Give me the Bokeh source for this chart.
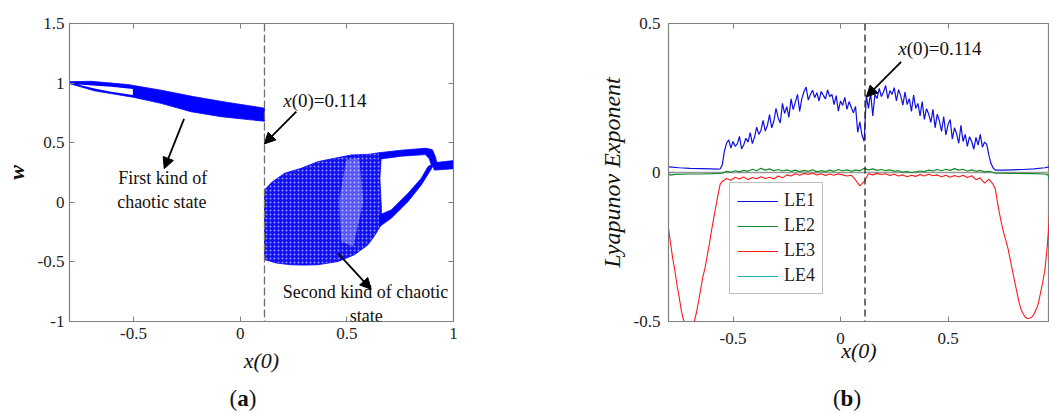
import numpy as np
from bokeh.embed import file_html
from bokeh.layouts import column, row
from bokeh.models import (Arrow, CustomJSTickFormatter, Div, FixedTicker, Label, Legend,
                          LegendItem, LinearAxis, NormalHead, Range1d, Span)
from bokeh.plotting import figure
from bokeh.resources import INLINE

SERIF = "Liberation Serif"
AX = "#808080"
TXT = "#222222"
BLUE = "#0000ff"

X_SWITCH = 0.114

# ---------------- panel (a): attractor regions of w versus x(0) ----------------
# first kind of chaotic state (x(0) < 0.114): upper edge then lower edge
band_x = [-0.802, -0.700, -0.527, -0.371, -0.214, -0.058, 0.114,
          0.114, 0.005, -0.089, -0.230, -0.371, -0.497, -0.683, -0.802]
band_w = [1.012, 1.015, 0.988, 0.941, 0.885, 0.838, 0.790,
          0.680, 0.700, 0.718, 0.760, 0.830, 0.880, 0.935, 0.997]
# open window between the two thin branches at the left end
gap_x = [-0.761, -0.605, -0.503, -0.503, -0.605, -0.683]
gap_w = [0.988, 0.969, 0.950, 0.900, 0.927, 0.955]

# second kind of chaotic state (x(0) > 0.114)
blob_x = [0.114, 0.150, 0.208, 0.286, 0.364, 0.442, 0.521, 0.599, 0.652, 0.661,
          0.655, 0.662, 0.661, 0.630, 0.599, 0.536, 0.458, 0.364, 0.300, 0.239, 0.170, 0.114]
blob_w = [0.104, 0.170, 0.243, 0.285, 0.341, 0.369, 0.397, 0.402, 0.416, 0.380,
          0.200, -0.050, -0.189, -0.280, -0.357, -0.440, -0.497, -0.524, -0.527, -0.524, -0.510, -0.480]
streak_x = [0.497, 0.558, 0.577, 0.530, 0.474, 0.464]
streak_w = [0.358, 0.374, 0.006, -0.371, -0.329, 0.006]

# periodic branches leaving the chaotic region
arc_x = [0.652, 0.755, 0.872, 0.901, 0.915, 0.924, 0.896, 0.886, 0.868, 0.755, 0.652]
arc_w = [0.416, 0.437, 0.454, 0.441, 0.383, 0.316, 0.316, 0.366, 0.400, 0.387, 0.362]
low_x = [0.653, 0.708, 0.787, 0.849, 0.888, 0.905, 0.896, 0.880, 0.849, 0.787, 0.708, 0.653]
low_w = [-0.204, -0.134, 0.006, 0.146, 0.257, 0.307, 0.316, 0.299, 0.201, 0.075, -0.064, -0.106]
tail_x = [0.900, 1.010, 1.010, 0.910]
tail_w = [0.330, 0.352, 0.283, 0.270]

# ---------------- panel (b): Lyapunov exponents ----------------
le1_left_x = [-0.80, -0.75, -0.70, -0.65, -0.60, -0.57, -0.56]
le1_left = [0.019, 0.016, 0.014, 0.013, 0.012, 0.011, 0.012]
# LE1 sampled every 0.01 from x(0) = -0.55 to 0.71
le1_mid = [0.025, 0.072, 0.098, 0.110, 0.082, 0.104, 0.088, 0.096, 0.121, 0.079,
           0.093, 0.115, 0.102, 0.134, 0.097, 0.118, 0.152, 0.128, 0.141, 0.175,
           0.139, 0.158, 0.194, 0.150, 0.172, 0.215, 0.183, 0.166, 0.232, 0.198,
           0.221, 0.185, 0.247, 0.211, 0.236, 0.262, 0.205, 0.248, 0.271, 0.287,
           0.243, 0.262, 0.276, 0.251, 0.268, 0.240, 0.272, 0.259, 0.247, 0.277,
           0.255, 0.262, 0.228, 0.258, 0.206, 0.240, 0.225, 0.252, 0.212, 0.238,
           0.218, 0.200, 0.222, 0.135, 0.170, 0.125, 0.105, 0.258, 0.215, 0.268,
           0.190, 0.262, 0.248, 0.282, 0.255, 0.270, 0.292, 0.248, 0.275, 0.262,
           0.285, 0.240, 0.278, 0.258, 0.226, 0.270, 0.228, 0.248, 0.205, 0.260,
           0.215, 0.232, 0.190, 0.238, 0.178, 0.214, 0.196, 0.168, 0.212, 0.150,
           0.196, 0.172, 0.138, 0.188, 0.126, 0.160, 0.178, 0.112, 0.150, 0.130,
           0.098, 0.158, 0.104, 0.128, 0.088, 0.120, 0.104, 0.078, 0.118, 0.092,
           0.128, 0.085, 0.102, 0.094, 0.058, 0.030, 0.015]
le1_right_x = [0.72, 0.75, 0.80, 0.85, 0.90, 0.95, 0.975]
le1_right = [0.008, 0.008, 0.009, 0.010, 0.012, 0.016, 0.020]

le2_left_x = [-0.80, -0.79, -0.77, -0.70, -0.65, -0.60, -0.57]
le2_left = [-0.004, -0.009, -0.006, -0.005, -0.005, -0.004, -0.003]
# LE2 sampled every 0.02 from x(0) = -0.55 to 0.71
le2_mid = [-0.002, 0.004, 0.001, 0.006, 0.002, 0.007, 0.004, 0.011, 0.006, 0.014,
           0.008, 0.012, 0.006, 0.010, 0.005, 0.009, 0.004, 0.008, 0.003, 0.007,
           0.004, 0.009, 0.002, 0.006, 0.003, 0.008, 0.004, 0.010, 0.005, 0.009,
           0.004, 0.008, 0.006, 0.014, 0.009, 0.012, 0.007, 0.010, 0.006, 0.009,
           0.004, 0.006, 0.001, 0.003, 0.000, 0.002, 0.005, 0.003, 0.008, 0.005,
           0.010, 0.006, 0.011, 0.007, 0.013, 0.008, 0.011, 0.005, 0.009, 0.004,
           0.007, 0.002, 0.004, 0.000]
le2_right_x = [0.72, 0.80, 0.90, 0.95, 0.965, 0.975]
le2_right = [-0.002, -0.003, -0.004, -0.005, -0.008, -0.030]

le3_left_x = [-0.80, -0.79, -0.78, -0.77, -0.76, -0.75, -0.74, -0.73, -0.72, -0.71,
              -0.70, -0.69, -0.68, -0.67, -0.66, -0.65, -0.64, -0.63, -0.62, -0.61,
              -0.60, -0.59, -0.58, -0.57, -0.56]
le3_left = [-0.187, -0.240, -0.290, -0.330, -0.380, -0.420, -0.465, -0.495, -0.510, -0.520,
            -0.520, -0.515, -0.500, -0.470, -0.432, -0.390, -0.350, -0.320, -0.280, -0.240,
            -0.195, -0.155, -0.115, -0.076, -0.040]
# LE3 sampled every 0.02 from x(0) = -0.55 to 0.71
le3_mid = [-0.030, -0.020, -0.026, -0.016, -0.022, -0.015, -0.024, -0.017, -0.021, -0.014,
           -0.020, -0.016, -0.022, -0.012, -0.018, -0.008, -0.012, -0.004, -0.009, -0.003,
           -0.007, -0.002, -0.008, -0.004, -0.010, -0.005, -0.009, -0.004, -0.008, -0.012,
           -0.009, -0.025, -0.045, -0.030, -0.004, -0.008, -0.003, -0.007, -0.004, -0.010,
           -0.006, -0.012, -0.008, -0.014, -0.009, -0.013, -0.007, -0.012, -0.006, -0.011,
           -0.008, -0.014, -0.009, -0.016, -0.010, -0.015, -0.009, -0.017, -0.011, -0.024,
           -0.018, -0.036, -0.022, -0.040]
le3_right_x = [0.72, 0.73, 0.74, 0.75, 0.76, 0.77, 0.78, 0.79, 0.80, 0.81, 0.82, 0.83,
               0.84, 0.85, 0.86, 0.87, 0.88, 0.89, 0.90, 0.91, 0.92, 0.93, 0.94, 0.95,
               0.96, 0.97, 0.98]
le3_right = [-0.055, -0.100, -0.140, -0.175, -0.205, -0.230, -0.258, -0.295, -0.330, -0.366,
             -0.400, -0.435, -0.460, -0.475, -0.486, -0.490, -0.489, -0.485, -0.475, -0.460,
             -0.440, -0.405, -0.370, -0.330, -0.260, -0.170, -0.020]
# LE4 stays below -0.5 over the whole plotted interval: nothing to draw inside the axes
le4_x = [-0.8, 0.97]
le4 = [float("nan"), float("nan")]

LE_COLORS = ["#1010e0", "#168a2a", "#ff1a1a", "#1ab2b8"]


def grid(start, step, n):
    return [round(start + step * i, 3) for i in range(n)]


le1_x = le1_left_x + grid(-0.55, 0.01, len(le1_mid)) + le1_right_x
le1_y = le1_left + le1_mid + le1_right
le2_x = le2_left_x + grid(-0.55, 0.02, len(le2_mid)) + le2_right_x
le2_y = le2_left + le2_mid + le2_right
le3_x = le3_left_x + grid(-0.55, 0.02, len(le3_mid)) + le3_right_x
le3_y = le3_left + le3_mid + le3_right

tick_fmt = CustomJSTickFormatter(code="return String(Math.round(tick * 10) / 10);")
blank_fmt = CustomJSTickFormatter(code="return '';")

PLOT_H, TOP, BOTTOM = 384, 23, 63


def style(p, xticks, yticks, xstand, ystand, right=True):
    p.xgrid.visible = False
    p.ygrid.visible = False
    p.outline_line_color = AX
    p.outline_line_width = 1.2
    for ax, ticks, st in ((p.below[0], xticks, xstand), (p.left[0], yticks, ystand)):
        ax.ticker = FixedTicker(ticks=ticks)
        ax.formatter = tick_fmt
        ax.major_tick_in = 5
        ax.major_tick_out = 0
        ax.minor_tick_line_color = None
        ax.axis_line_color = AX
        ax.major_tick_line_color = AX
        ax.major_label_text_font = SERIF
        ax.major_label_text_font_size = "17px"
        ax.major_label_text_color = TXT
        ax.major_label_standoff = st
        ax.axis_label_text_font = SERIF
        ax.axis_label_text_color = "#111111"
    sides = [("above", xticks)] + ([("right", yticks)] if right else [])
    for side, ticks in sides:
        ax = LinearAxis(ticker=FixedTicker(ticks=ticks), formatter=blank_fmt,
                        major_tick_in=5, major_tick_out=0, minor_tick_line_color=None,
                        axis_line_color=AX, major_tick_line_color=AX,
                        major_label_standoff=0, major_label_text_font_size="1px")
        p.add_layout(ax, side)


def axis_titles(p, xlabel, xstyle, xsize, xstand, ylabel, ystyle, ysize, ystand):
    xa, ya = p.below[0], p.left[0]
    xa.axis_label, xa.axis_label_text_font_style = xlabel, xstyle
    xa.axis_label_text_font_size, xa.axis_label_standoff = xsize, xstand
    ya.axis_label, ya.axis_label_text_font_style = ylabel, ystyle
    ya.axis_label_text_font_size, ya.axis_label_standoff = ysize, ystand


def text(p, x, y, s, size="18px", style_="normal", align="center", x_offset=0):
    p.add_layout(Label(x=x, y=y, text=s, text_font=SERIF, text_font_size=size,
                       text_font_style=style_, text_color="#111111", text_align=align,
                       text_baseline="middle", x_offset=x_offset))


def arrow(p, x0, y0, x1, y1):
    p.add_layout(Arrow(end=NormalHead(size=11, fill_color="black", line_color="black"),
                       x_start=x0, y_start=y0, x_end=x1, y_end=y1,
                       line_color="black", line_width=1.8))


# ---------------- figure (a) ----------------
pa = figure(width=525, height=PLOT_H, x_range=Range1d(-0.8, 1.0), y_range=Range1d(-1.0, 1.5),
            output_backend="svg", toolbar_location=None,
            min_border_left=68, min_border_right=72, min_border_top=TOP, min_border_bottom=BOTTOM)
style(pa, [-0.5, 0, 0.5, 1], [-1, -0.5, 0, 0.5, 1, 1.5], 6, 5)
axis_titles(pa, "x(0)", "italic", "22px", 6, "w", "bold italic", "22px", 6)

pa.patch(band_x, band_w, fill_color=BLUE, line_color=BLUE, line_width=0.8)
pa.patch(gap_x, gap_w, fill_color="white", line_color=None)
pa.patch(blob_x, blob_w, fill_color="#1010f5", line_color=BLUE, line_width=0.8,
         hatch_pattern="dot", hatch_color="white", hatch_alpha=0.55, hatch_scale=4,
         hatch_weight=1.2)
pa.patch(streak_x, streak_w, fill_color="white", fill_alpha=0.3, line_color=None)
for bx, bw in ((arc_x, arc_w), (low_x, low_w), (tail_x, tail_w)):
    pa.patch(bx, bw, fill_color=BLUE, line_color=BLUE, line_width=0.8)

pa.add_layout(Span(location=X_SWITCH, dimension="height", line_color="#6e6e6e",
                   line_width=1.3, line_dash="8 3"))

text(pa, 0.2017, 0.852, "x", size="19px", style_="italic", align="left")
text(pa, 0.2017, 0.852, "(0)=0.114", size="19px", align="left", x_offset=8.5)
arrow(pa, 0.263, 0.76, 0.113, 0.49)
text(pa, -0.363, 0.201, "First kind of")
text(pa, -0.367, 0.006, "chaotic state")
arrow(pa, -0.263, 0.70, -0.356, 0.282)
text(pa, 0.587, -0.756, "Second kind of chaotic")
text(pa, 0.591, -0.957, "state")
arrow(pa, 0.46, -0.43, 0.614, -0.73)

# ---------------- figure (b) ----------------
pb = figure(width=524, height=PLOT_H, x_range=Range1d(-0.8, 0.972), y_range=Range1d(-0.5, 0.5),
            output_backend="svg", toolbar_location=None,
            min_border_left=143, min_border_right=0, min_border_top=TOP, min_border_bottom=BOTTOM)
style(pb, [-0.5, 0, 0.5, 1], [-0.5, 0, 0.5], 11, 8, right=False)
axis_titles(pb, "x(0)", "italic", "22px", -9, "Lyapunov Exponent", "italic", "24px", 6)

pb.add_layout(Span(location=0, dimension="width", line_color="#9a9a9a", line_width=1.3,
                   level="underlay"))
r1 = pb.line(le1_x, le1_y, line_color=LE_COLORS[0], line_width=1.2)
r2 = pb.line(le2_x, le2_y, line_color=LE_COLORS[1], line_width=1.2)
r3 = pb.line(le3_x, le3_y, line_color=LE_COLORS[2], line_width=1.1)
r4 = pb.line(le4_x, le4, line_color=LE_COLORS[3], line_width=1.2)

pb.add_layout(Span(location=X_SWITCH, dimension="height", line_color="#222222",
                   line_width=1.3, line_dash="7 4"))

legend = Legend(items=[LegendItem(label=f"LE{i + 1}", renderers=[r])
                       for i, r in enumerate([r1, r2, r3, r4])],
                location=(61, 27), margin=0, padding=7, spacing=4,
                glyph_width=41, glyph_height=20, label_height=20, label_standoff=6,
                label_text_font=SERIF, label_text_font_size="18px", label_text_color=TXT,
                border_line_color=AX, border_line_width=1.5, background_fill_alpha=1.0)
pb.add_layout(legend)

text(pb, 0.268, 0.415, "x", size="19px", style_="italic", align="left")
text(pb, 0.268, 0.415, "(0)=0.114", size="19px", align="left", x_offset=8.5)
arrow(pb, 0.282, 0.371, 0.12, 0.254)

# ---------------- sub-figure captions ----------------
cap_span = ('<span style="display:inline-block;width:50px;margin-left:{}px;'
            'text-align:center">(<b>{}</b>)</span>')
captions = Div(text=cap_span.format(218, "a") + cap_span.format(554, "b"),
               width=1049, height=414 - PLOT_H, margin=0,
               styles={"font-family": SERIF, "font-size": "23px", "line-height": "30px",
                       "color": "#111111", "white-space": "nowrap"})

layout = column(row(pa, pb), captions)
open("out.html", "w").write(file_html(layout, INLINE))
